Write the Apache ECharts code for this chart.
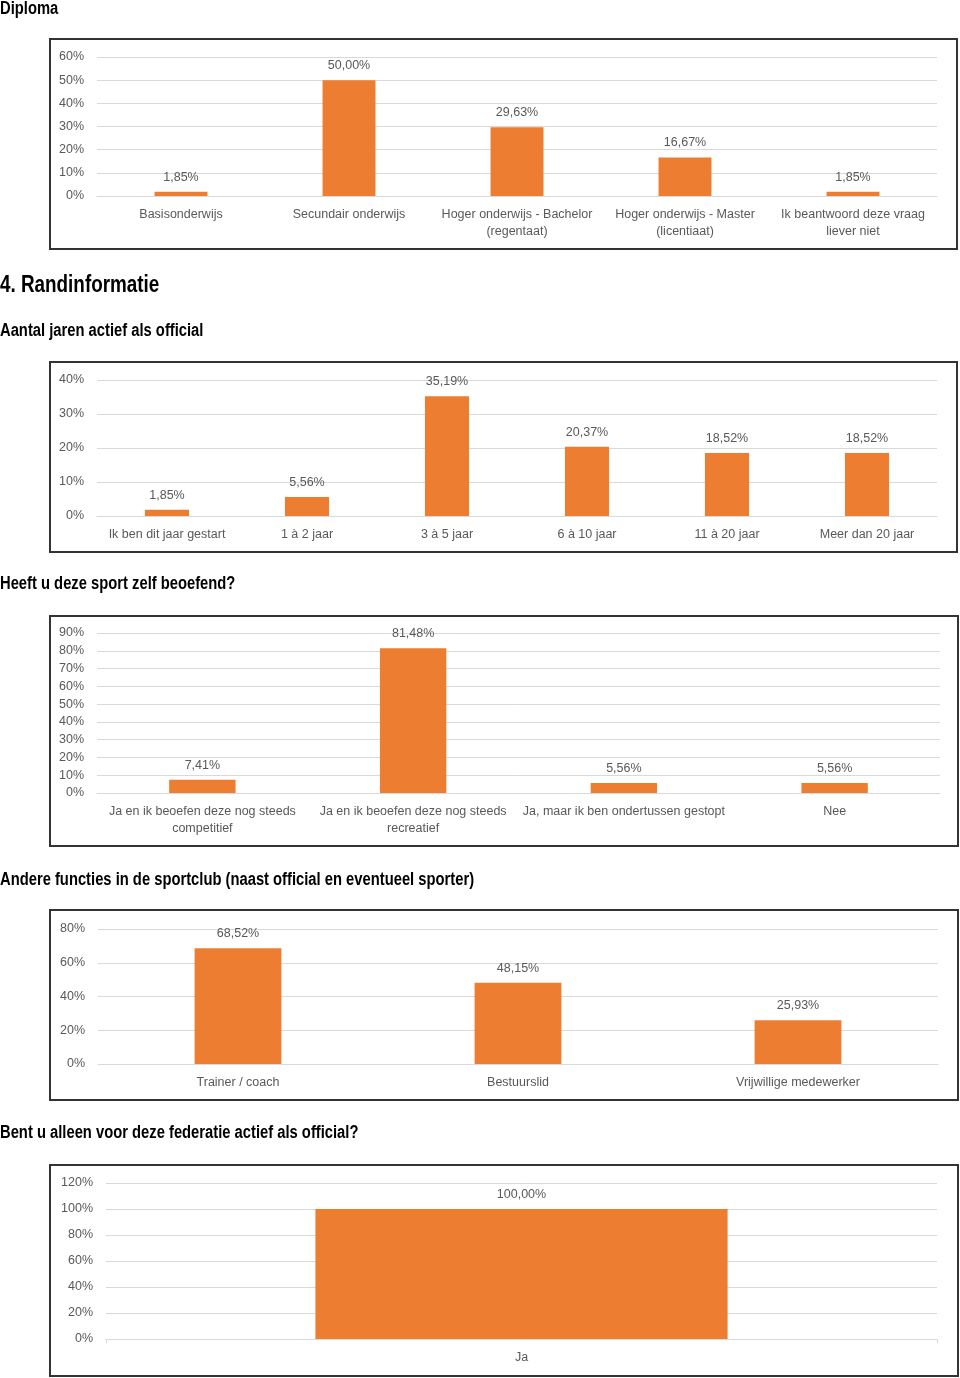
<!DOCTYPE html>
<html><head><meta charset="utf-8">
<script src="https://cdn.jsdelivr.net/npm/echarts@6/dist/echarts.min.js"></script>
<style>html,body{margin:0;padding:0;background:#fff}#c{width:960px;height:1378px}</style>
</head><body><div id="c"></div>
<script>
const FONT = '"Liberation Sans",Arial,sans-serif';

const diplomaCats = ['Basisonderwijs', 'Secundair onderwijs', 'Hoger onderwijs - Bachelor\n(regentaat)', 'Hoger onderwijs - Master\n(licentiaat)', 'Ik beantwoord deze vraag\nliever niet'];
const diplomaVals = [1.85, 50.00, 29.63, 16.67, 1.85];

const jarenCats = ['Ik ben dit jaar gestart', '1 à 2 jaar', '3 à 5 jaar', '6 à 10 jaar', '11 à 20 jaar', 'Meer dan 20 jaar'];
const jarenVals = [1.85, 5.56, 35.19, 20.37, 18.52, 18.52];

const sportCats = ['Ja en ik beoefen deze nog steeds\ncompetitief', 'Ja en ik beoefen deze nog steeds\nrecreatief', 'Ja, maar ik ben ondertussen gestopt', 'Nee'];
const sportVals = [7.41, 81.48, 5.56, 5.56];

const functieCats = ['Trainer / coach', 'Bestuurslid', 'Vrijwillige medewerker'];
const functieVals = [68.52, 48.15, 25.93];

const alleenCats = ['Ja'];
const alleenVals = [100.00];

const titles = [
  {text: 'Diploma', y: 9, size: 18},
  {text: '4. Randinformatie', y: 286, size: 23},
  {text: 'Aantal jaren actief als official', y: 331, size: 18},
  {text: 'Heeft u deze sport zelf beoefend?', y: 584, size: 18},
  {text: 'Andere functies in de sportclub (naast official en eventueel sporter)', y: 880, size: 18},
  {text: 'Bent u alleen voor deze federatie actief als official?', y: 1133, size: 18}
];

const panels = [
  {cats: diplomaCats, vals: diplomaVals, max: 60, interval: 10, grid: {left: 97, top: 57, width: 840, height: 139}, box: [50, 39, 907, 210], barW: '31.5%', ticks: false},
  {cats: jarenCats, vals: jarenVals, max: 40, interval: 10, grid: {left: 97, top: 380, width: 840, height: 136}, box: [50, 362, 907, 190], barW: '31.5%', ticks: false},
  {cats: sportCats, vals: sportVals, max: 90, interval: 10, grid: {left: 97, top: 633, width: 843, height: 160}, box: [50, 616, 908, 230], barW: '31.5%', ticks: false},
  {cats: functieCats, vals: functieVals, max: 80, interval: 20, grid: {left: 98, top: 929, width: 840, height: 135}, box: [50, 910, 908, 190], barW: '31%', ticks: false},
  {cats: alleenCats, vals: alleenVals, max: 120, interval: 20, grid: {left: 106, top: 1183, width: 831, height: 156}, box: [50, 1165, 908, 211], barW: '49.6%', ticks: true}
];

const TXT = '#595959', GRID = '#D9D9D9', ORANGE = '#ED7D31';

const option = {
  animation: false,
  textStyle: {fontFamily: FONT},
  grid: panels.map(p => p.grid),
  xAxis: panels.map((p, i) => ({
    type: 'category', gridIndex: i, data: p.cats,
    axisTick: {show: p.ticks, length: 4, lineStyle: {color: GRID}},
    axisLine: {lineStyle: {color: GRID, width: 1}},
    axisLabel: {color: TXT, fontSize: 12.5, fontFamily: FONT, margin: 10, lineHeight: 17, interval: 0}
  })),
  yAxis: panels.map((p, i) => ({
    type: 'value', gridIndex: i, min: 0, max: p.max, interval: p.interval,
    axisLine: {show: false}, axisTick: {show: false},
    splitLine: {lineStyle: {color: GRID, width: 1}},
    axisLabel: {color: TXT, fontSize: 12.5, fontFamily: FONT, margin: 13, formatter: '{value}%'}
  })),
  series: panels.map((p, i) => ({
    type: 'bar', xAxisIndex: i, yAxisIndex: i, data: p.vals,
    barWidth: p.barW,
    itemStyle: {color: ORANGE},
    label: {show: true, position: 'top', distance: 8, color: TXT, fontSize: 12.5, fontFamily: FONT,
      formatter: o => o.value.toFixed(2).replace('.', ',') + '%'}
  })),
  graphic: [
    ...titles.map(t => ({type: 'text', x: 0, y: t.y, scaleX: 0.82, scaleY: 1,
      style: {text: t.text, font: 'bold ' + t.size + 'px ' + FONT, fill: '#000', verticalAlign: 'middle', align: 'left'}})),
    ...panels.map(p => ({type: 'rect', z: -1, silent: true,
      shape: {x: p.box[0], y: p.box[1], width: p.box[2], height: p.box[3]},
      style: {fill: 'none', stroke: '#333', lineWidth: 2}}))
  ]
};

echarts.init(document.getElementById('c')).setOption(option);
</script>
</body></html>
